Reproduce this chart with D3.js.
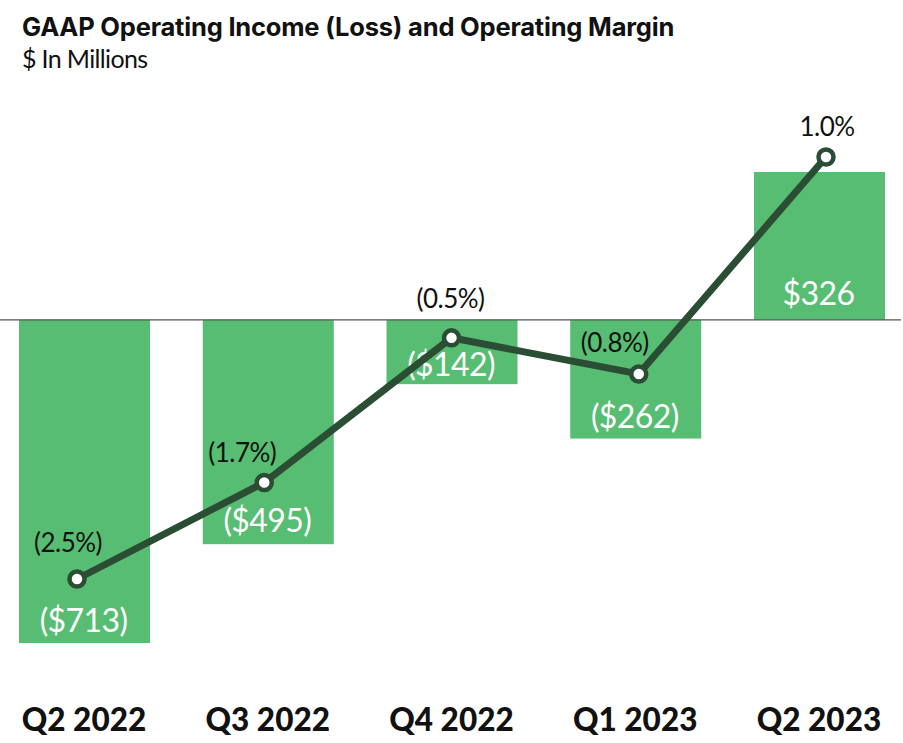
<!DOCTYPE html>
<html><head><meta charset="utf-8">
<script src="https://cdn.jsdelivr.net/npm/d3@7"></script>
<style>html,body{margin:0;padding:0;background:#fff;overflow:hidden}svg{display:block}text{font-family:Lato,sans-serif}</style>
</head><body><svg id="c" width="903" height="743"></svg>
<script>
const quarters=["Q2 2022","Q3 2022","Q4 2022","Q1 2023","Q2 2023"];
const incomeValues=[-713,-495,-142,-262,326];
const incomeLabels=["($713)","($495)","($142)","($262)","$326"];
const marginValues=[-2.5,-1.7,-0.5,-0.8,1.0];
const marginLabels=["(2.5%)","(1.7%)","(0.5%)","(0.8%)","1.0%"];
const titleText="GAAP Operating Income (Loss) and Operating Margin";
const subtitleText="$ In Millions";

const svg=d3.select("#c");
const barX=d3.scaleBand().domain(quarters).range([19,885]).paddingInner(0.287).paddingOuter(0);
const lineX=d3.scalePoint().domain(quarters).range([77,826]);
const yBar=d3.scaleLinear().domain([-713,326]).range([643,172]);
const yLine=d3.scaleLinear().domain([-2.5,1]).range([579,157]);
const zero=yBar(0);

svg.selectAll("rect.bar").data(quarters).join("rect").attr("class","bar")
 .attr("x",d=>barX(d)).attr("width",barX.bandwidth())
 .attr("y",(d,i)=>Math.min(yBar(incomeValues[i]),zero))
 .attr("height",(d,i)=>Math.abs(yBar(incomeValues[i])-zero))
 .attr("fill","#57bd72");
svg.append("line").attr("x1",0).attr("x2",901).attr("y1",zero).attr("y2",zero).attr("stroke","#555").attr("stroke-width",1.2);

const line=d3.line().x(d=>lineX(d.q)).y(d=>yLine(d.v));
const pts=quarters.map((q,i)=>({q,v:marginValues[i]}));

const incomeDy=[-11,-12,-8,-11,-15];
svg.selectAll("text.inc").data(quarters).join("text").attr("class","inc")
 .attr("x",d=>barX(d)+barX.bandwidth()/2-1)
 .attr("y",(d,i)=>incomeValues[i]<0?yBar(incomeValues[i])+incomeDy[i]:zero+incomeDy[i])
 .attr("text-anchor","middle").attr("fill","#fff").attr("font-size",32).attr("letter-spacing",-0.6).text((d,i)=>incomeLabels[i]);

svg.append("path").datum(pts).attr("d",line).attr("fill","none").attr("stroke","#2a4d33").attr("stroke-width",7);
svg.selectAll("circle").data(pts).join("circle").attr("cx",d=>lineX(d.q)).attr("cy",d=>yLine(d.v)).attr("r",7.5)
 .attr("fill","#fff").attr("stroke","#2a4d33").attr("stroke-width",4.5);

const mdx=[-9,-22,-1,-24,1],mdy=[-27,-21,-30,-22,-21];
svg.selectAll("text.m").data(pts).join("text").attr("class","m")
 .attr("x",(d,i)=>lineX(d.q)+mdx[i]).attr("y",(d,i)=>yLine(d.v)+mdy[i])
 .attr("text-anchor","middle").attr("fill","#111").attr("font-size",26).attr("letter-spacing",-0.5).text((d,i)=>marginLabels[i]);

const axisG=svg.append("g").attr("transform","translate(0,720)");
axisG.selectAll("text").data(quarters).join("text")
 .attr("x",d=>barX(d)+barX.bandwidth()/2-0.5).attr("y",11)
 .attr("text-anchor","middle").attr("font-size",31.5).attr("font-weight",900).attr("fill","#111").text(d=>d);

svg.append("text").attr("x",22).attr("y",36).attr("font-size",25.5).attr("font-weight",700).attr("letter-spacing",-0.2).style("font-family","Inter").attr("fill","#111").text(titleText);
svg.append("text").attr("x",22).attr("y",68).attr("font-size",25).attr("letter-spacing",-0.65).attr("fill","#111").text(subtitleText);
</script></body></html>
